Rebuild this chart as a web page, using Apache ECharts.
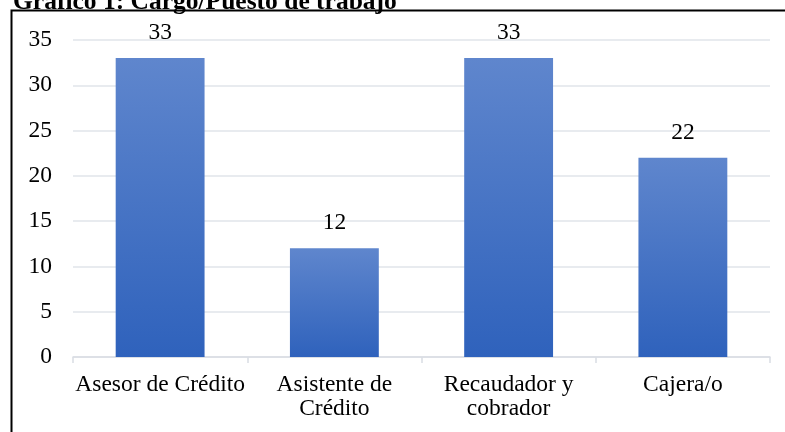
<!DOCTYPE html>
<html>
<head>
<meta charset="utf-8">
<script src="https://cdn.jsdelivr.net/npm/echarts@6/dist/echarts.min.js"></script>
<style>
html, body { margin: 0; padding: 0; background: #fff; }
#chart { width: 785px; height: 432px; }
</style>
</head>
<body>
<div id="chart"></div>
<script>
var categories = ['Asesor de Crédito', 'Asistente de\nCrédito', 'Recaudador y\ncobrador', 'Cajera/o'];
var values = [33, 12, 33, 22];
var yTicks = [0, 35, 5];

var serif = '"Liberation Serif", "DejaVu Serif", serif';

var option = {
	animation: false,
	backgroundColor: '#fff',
	title: {
		text: 'Gráfico 1: Cargo/Puesto de trabajo',
		left: 8,
		top: -16,
		textStyle: { fontFamily: serif, fontSize: 25.5, fontWeight: 'bold', color: '#000' }
	},
	graphic: [{
		type: 'rect',
		shape: { x: 11.5, y: 10.5, width: 800, height: 440 },
		style: { fill: null, stroke: '#000', lineWidth: 2 },
		z: 0
	}],
	grid: { left: 73, right: 15, top: 40, bottom: 75 },
	xAxis: {
		type: 'category',
		data: categories,
		axisLine: { lineStyle: { color: '#d9dde3', width: 1.5 } },
		axisTick: { show: true, length: 6, lineStyle: { color: '#d9dde3', width: 1.5 } },
		axisLabel: { interval: 0, fontFamily: serif, fontSize: 23.5, color: '#000', margin: 16, lineHeight: 24 }
	},
	yAxis: {
		type: 'value',
		min: yTicks[0],
		max: yTicks[1],
		interval: yTicks[2],
		axisLine: { show: false },
		axisTick: { show: false },
		splitLine: { lineStyle: { color: '#e1e5ea', width: 1.5 } },
		axisLabel: { fontFamily: serif, fontSize: 23.5, color: '#000', margin: 21 }
	},
	series: [{
		type: 'bar',
		data: values,
		barWidth: '51%',
		itemStyle: {
			color: new echarts.graphic.LinearGradient(0, 0, 0, 1, [
				{ offset: 0, color: '#5f86cd' },
				{ offset: 1, color: '#2f62bc' }
			])
		},
		label: {
			show: true,
			position: 'top',
			distance: 13,
			fontFamily: serif,
			fontSize: 23.5,
			color: '#000'
		}
	}]
};

var myChart = echarts.init(document.getElementById('chart'));
myChart.setOption(option);
</script>
</body>
</html>
